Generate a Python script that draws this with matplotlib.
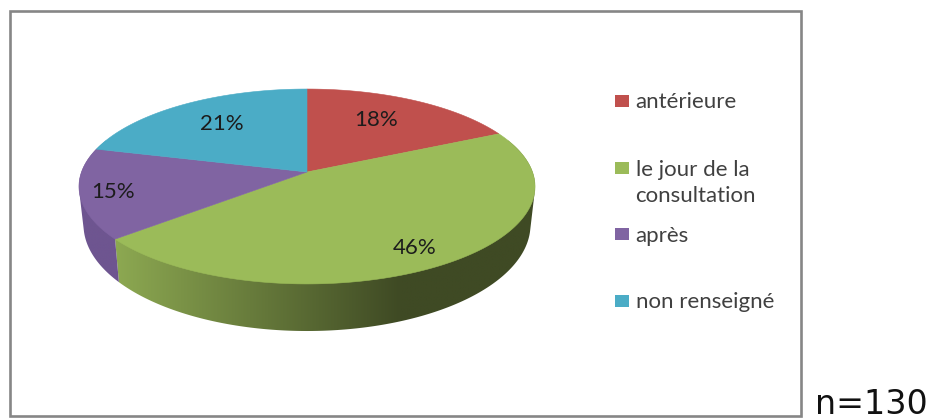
import numpy as np
import matplotlib
matplotlib.use("Agg")
import matplotlib.pyplot as plt
from matplotlib.patches import Polygon, Rectangle

categories = ["antérieure", "le jour de la\nconsultation", "après", "non renseigné"]
values = [18, 46, 15, 21]
value_labels = ["18%", "46%", "15%", "21%"]
top_colors = ["#C0504D", "#9BBB59", "#8064A2", "#4BACC6"]
side_light = ["#9A403E", "#8CA851", "#6E5590", "#3F93A9"]
side_dark = ["#6A2C2A", "#3F4A24", "#644C82", "#2F7080"]

W, H = 934, 418
fig = plt.figure(figsize=(W / 100, H / 100), dpi=100, facecolor="white")
ax = fig.add_axes([0, 0, 1, 1])
ax.set_xlim(0, W)
ax.set_ylim(H, 0)
ax.axis("off")

CX, CY = 307, 172
A, B, K = 225.5, 95.3, 0.1486


def top_rim(theta):
    u, v = np.sin(theta), np.cos(theta)
    d = 1 + K * v
    return CX + A * u / d, CY - B * v / d


def bottom_rim(theta):
    u, v = np.sin(theta), np.cos(theta)
    d = 1 + K * v
    return CX + 0.98 * A * u / d, CY - 1.09 * B * v / d + 37


def hull(points):
    pts = sorted(set(map(tuple, points)))

    def half(seq):
        out = []
        for p in seq:
            while len(out) >= 2 and ((out[-1][0] - out[-2][0]) * (p[1] - out[-2][1])
                                     - (out[-1][1] - out[-2][1]) * (p[0] - out[-2][0])) <= 0:
                out.pop()
            out.append(p)
        return out[:-1]

    return np.array(half(pts) + half(pts[::-1]))


ax.add_patch(Rectangle((10, 11), 791, 405, fc="white", ec="#868686", lw=1.9, zorder=1))

fractions = np.array(values) / sum(values)
edges = np.concatenate([[0], np.cumsum(fractions)]) * 2 * np.pi

# side wall: a horizontal gradient clipped to each slice's visible wall
for i in range(len(values)):
    thetas = np.linspace(edges[i], edges[i + 1], 300)
    thetas = thetas[np.cos(thetas) < 0.35]
    if len(thetas) < 2:
        continue
    tx, ty = top_rim(thetas)
    bx, by = bottom_rim(thetas)
    pts = hull(np.column_stack([np.r_[tx, bx], np.r_[ty, by]]))
    poly = Polygon(pts, closed=True, fc="none", ec="none", zorder=2)
    ax.add_patch(poly)
    xs = np.linspace(pts[:, 0].min() - 2, pts[:, 0].max() + 2, 400)
    f = np.clip((400 - xs) / 282, 0, 1)[None, :, None]
    dark = np.array(matplotlib.colors.to_rgb(side_dark[i]))
    light = np.array(matplotlib.colors.to_rgb(side_light[i]))
    img = dark + (light - dark) * f
    im = ax.imshow(img, extent=(xs[0], xs[-1], pts[:, 1].max() + 2, pts[:, 1].min() - 2),
                   aspect="auto", interpolation="bilinear", zorder=2)
    im.set_clip_path(poly)

ax.set_xlim(0, W)
ax.set_ylim(H, 0)

# top face
for i in range(len(values)):
    thetas = np.linspace(edges[i], edges[i + 1], 200)
    xs, ys = top_rim(thetas)
    pts = np.column_stack([np.r_[CX, xs], np.r_[CY, ys]])
    ax.add_patch(Polygon(pts, closed=True, fc=top_colors[i], ec=top_colors[i], lw=0.4, zorder=3))

# value labels
label_xy = [(376, 119.5), (415, 247.5), (113, 192.5), (222, 123.5)]
for (x, y), s in zip(label_xy, value_labels):
    ax.text(x, y, s, ha="center", va="center", fontsize=16, family="Lato", color="#1c1c1c", zorder=4)

# legend
legend_y = [101, 168, 234, 301]
for y, name, col in zip(legend_y, categories, top_colors):
    ax.add_patch(Rectangle((615, y - 6), 14, 12, fc=col, ec="none", zorder=4))
    for j, line in enumerate(name.split("\n")):
        ax.text(635.5, y + 1.5 + j * 26.5, line, ha="left", va="center", fontsize=16, family="Lato",
                color="#404040", zorder=4)

ax.text(815, 414, "n=130", ha="left", va="baseline", fontsize=24, family="DejaVu Sans", color="#111111")

fig.savefig("out.png", dpi=100, facecolor="white")
